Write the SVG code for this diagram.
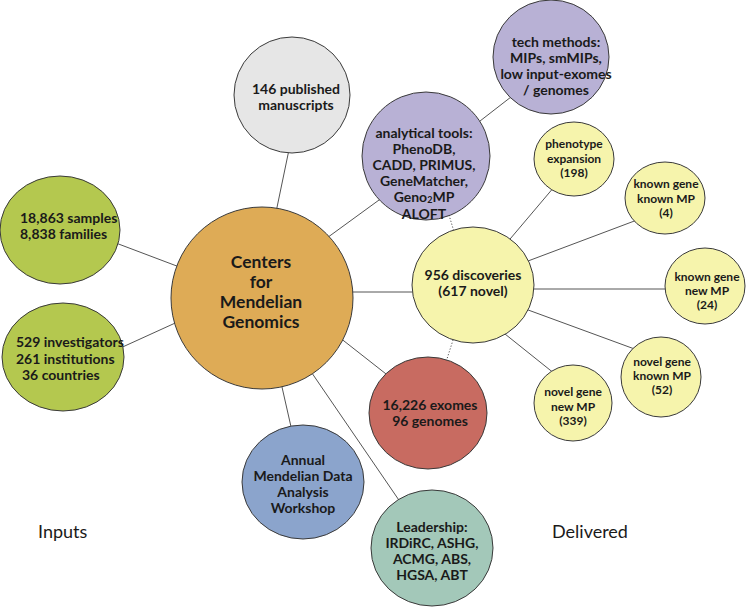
<svg xmlns="http://www.w3.org/2000/svg" width="746" height="608" viewBox="0 0 746 608">
<style>
.n{stroke:#3a3a3a;stroke-width:1}
.c{stroke:#555;stroke-width:1;fill:none}
.d{stroke:#555;stroke-width:1;fill:none;stroke-dasharray:1.2 1.8}
text{font-family:Lato,"Open Sans","Liberation Sans",sans-serif;font-weight:700;fill:#1a1a1a;text-anchor:middle}
.t{font-size:14px}
.s{font-size:12px}
.b{font-size:17.5px}
.l{font-size:18px;font-weight:400;text-anchor:start}
.st{text-anchor:start}
</style>
<rect width="746" height="608" fill="#fff"/>
<g id="connectors">
<line class="c" x1="100" y1="237" x2="190" y2="271"/>
<line class="c" x1="105" y1="355" x2="195" y2="314"/>
<line class="c" x1="275" y1="217" x2="291" y2="140"/>
<line class="c" x1="320" y1="243" x2="390" y2="192"/>
<line class="c" x1="345" y1="292" x2="420" y2="292"/>
<line class="c" x1="330" y1="330" x2="395" y2="381"/>
<line class="c" x1="277" y1="365" x2="294" y2="440"/>
<line class="c" x1="303" y1="360" x2="405" y2="509"/>
<line class="c" x1="462" y1="135" x2="520" y2="90"/>
<line class="d" x1="449" y1="215" x2="455" y2="235"/>
<line class="d" x1="454" y1="337" x2="446" y2="362"/>
<line class="c" x1="505" y1="245" x2="560" y2="180"/>
<line class="c" x1="520" y1="264" x2="645" y2="217"/>
<line class="c" x1="525" y1="289" x2="675" y2="289"/>
<line class="c" x1="520" y1="307" x2="640" y2="351"/>
<line class="c" x1="500" y1="330" x2="560" y2="378"/>
</g>
<g id="cmg">
<ellipse class="n" cx="262" cy="298" rx="91" ry="91" fill="#DEAB56"/>
<text class="b" x="261" y="268">Centers</text>
<text class="b" x="261" y="288">for</text>
<text class="b" x="261" y="308">Mendelian</text>
<text class="b" x="261" y="328">Genomics</text>
</g>
<g id="manuscripts">
<ellipse class="n" cx="292" cy="95" rx="58" ry="58" fill="#E6E6E6"/>
<text class="t" x="296" y="94">146 published</text>
<text class="t" x="296" y="110">manuscripts</text>
</g>
<g id="tech">
<ellipse class="n" cx="551" cy="57" rx="58" ry="57" fill="#B8B1D5"/>
<text class="t" x="556" y="47">tech methods:</text>
<text class="t" x="556" y="63">MIPs, smMIPs,</text>
<text class="t" x="556" y="79">low input-exomes</text>
<text class="t" x="556" y="95">/ genomes</text>
</g>
<g id="analytical">
<ellipse class="n" cx="426" cy="156" rx="64" ry="64" fill="#B8B1D5"/>
<text class="t" x="424" y="138">analytical tools:</text>
<text class="t" x="424" y="154">PhenoDB,</text>
<text class="t" x="424" y="170">CADD, PRIMUS,</text>
<text class="t" x="424" y="186">GeneMatcher,</text>
<text class="t" x="424" y="202">Geno<tspan font-size="9" dy="1">2</tspan><tspan dy="-1">MP</tspan></text>
<text class="t" x="424" y="218.5">ALOFT</text>
</g>
<g id="discoveries">
<ellipse class="n" cx="473" cy="285" rx="61" ry="58" fill="#F6F4AC"/>
<text class="t" x="473" y="280">956 discoveries</text>
<text class="t" x="473" y="296">(617 novel)</text>
</g>
<g id="phenotype">
<ellipse class="n" cx="574" cy="159" rx="40" ry="37" fill="#F6F4AC"/>
<text class="s" x="574" y="148">phenotype</text>
<text class="s" x="574" y="163">expansion</text>
<text class="s" x="574" y="177">(198)</text>
</g>
<g id="kgkmp">
<ellipse class="n" cx="665" cy="198" rx="40" ry="36" fill="#F6F4AC"/>
<text class="s" x="666" y="188">known gene</text>
<text class="s" x="666" y="203">known MP</text>
<text class="s" x="666" y="217">(4)</text>
</g>
<g id="kgnmp">
<ellipse class="n" cx="705" cy="286" rx="40" ry="38" fill="#F6F4AC"/>
<text class="s" x="707" y="281">known gene</text>
<text class="s" x="707" y="295">new MP</text>
<text class="s" x="707" y="309">(24)</text>
</g>
<g id="ngkmp">
<ellipse class="n" cx="661" cy="377" rx="40" ry="40" fill="#F6F4AC"/>
<text class="s" x="662" y="366">novel gene</text>
<text class="s" x="662" y="380">known MP</text>
<text class="s" x="662" y="394">(52)</text>
</g>
<g id="ngnmp">
<ellipse class="n" cx="573" cy="403" rx="39" ry="38" fill="#F6F4AC"/>
<text class="s" x="573" y="396">novel gene</text>
<text class="s" x="573" y="411">new MP</text>
<text class="s" x="573" y="425">(339)</text>
</g>
<g id="exomes">
<ellipse class="n" cx="428" cy="413" rx="59" ry="56" fill="#C86B61"/>
<text class="t" x="430" y="410">16,226 exomes</text>
<text class="t" x="430" y="426">96 genomes</text>
</g>
<g id="leadership">
<ellipse class="n" cx="432" cy="548" rx="61" ry="58" fill="#A3C8B9"/>
<text class="t" x="432" y="532">Leadership:</text>
<text class="t" x="432" y="548">IRDiRC, ASHG,</text>
<text class="t" x="432" y="564">ACMG, ABS,</text>
<text class="t" x="432" y="580">HGSA, ABT</text>
</g>
<g id="workshop">
<ellipse class="n" cx="303" cy="482" rx="61" ry="57" fill="#8BA4CC"/>
<text class="t" x="303" y="465">Annual</text>
<text class="t" x="303" y="481">Mendelian Data</text>
<text class="t" x="303" y="497">Analysis</text>
<text class="t" x="303" y="513">Workshop</text>
</g>
<g id="samples">
<ellipse class="n" cx="60" cy="230" rx="60" ry="54" fill="#B4C84F"/>
<text class="t st" x="20" y="223">18,863 samples</text>
<text class="t st" x="20" y="239">8,838 families</text>
</g>
<g id="investigators">
<ellipse class="n" cx="63" cy="357" rx="61" ry="54" fill="#B4C84F"/>
<text class="t st" x="16" y="347">529 investigators</text>
<text class="t st" x="16" y="364">261 institutions</text>
<text class="t st" x="22" y="380">36 countries</text>
</g>
<g id="labels">
<text class="l" x="38" y="538">Inputs</text>
<text class="l" x="552" y="538">Delivered</text>
</g>
</svg>
